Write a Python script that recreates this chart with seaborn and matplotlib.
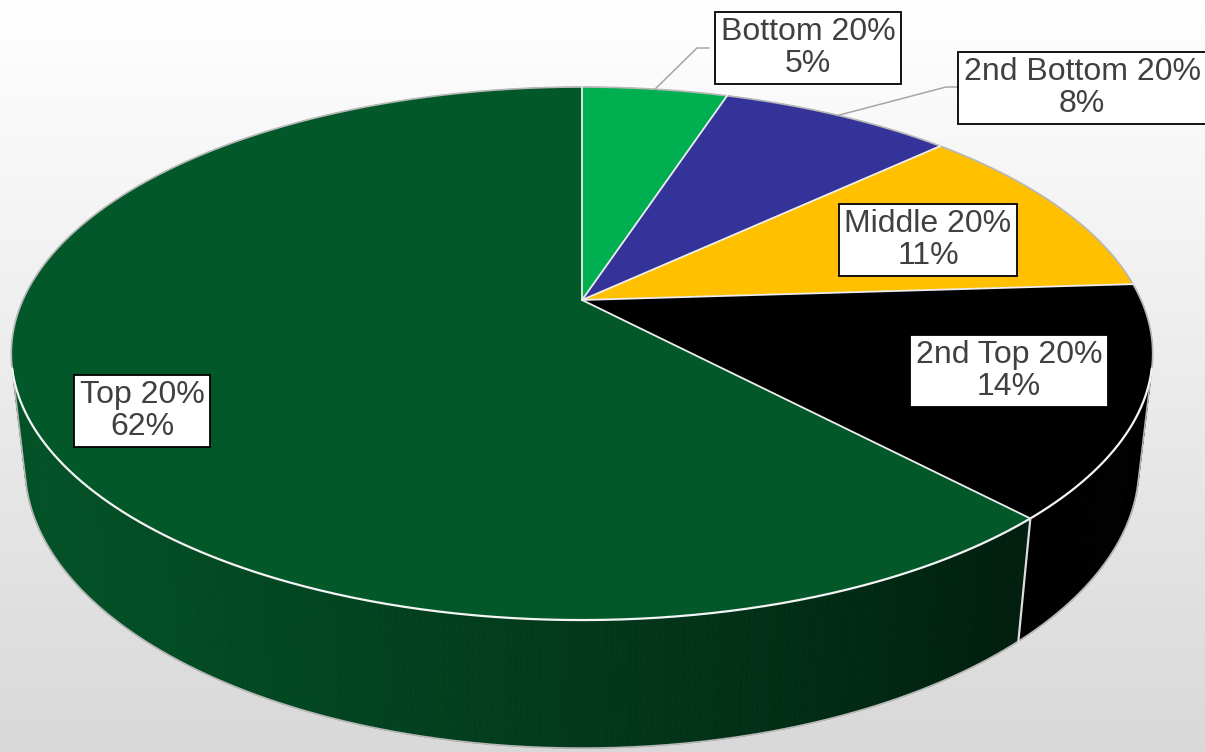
import numpy as np
import matplotlib
matplotlib.use("Agg")
import matplotlib.pyplot as plt
from matplotlib.patches import Polygon
from matplotlib.colors import to_rgb
import seaborn as sns

# ---- data -------------------------------------------------------------
groups = ["Bottom 20%", "2nd Bottom 20%", "Middle 20%", "2nd Top 20%", "Top 20%"]
shares = [5, 8, 11, 14, 62]
slice_hex = ["#00B050", "#333399", "#FFC000", "#000000", "#03582A"]

# label box centres (pixel space) and optional leader elbows
label_pos = [(808, 48), (1082, 88), (928, 240), (1009, 371), (142, 411)]
leader_elbow = [(697, 48), (946, 87), None, None, None]
leader_end = [(709, 48), (958, 87), None, None, None]

# ---- styling ------------------------------------------------------------
sns.set_theme(style="white")
plt.rcParams["font.family"] = ["Liberation Sans", "DejaVu Sans"]
palette = sns.color_palette(slice_hex)

W, H = 1205, 752
fig = plt.figure(figsize=(W / 100, H / 100), dpi=100)
ax = fig.add_axes([0, 0, 1, 1])
ax.set_xlim(0, W)
ax.set_ylim(H, 0)
ax.axis("off")

# background: soft vertical grey gradient
grad = np.linspace(1.0, 0.85, 256)[:, None]
bg = np.dstack([grad, grad, grad]) * np.ones((1, 4, 1))
ax.imshow(bg, extent=(0, W, H, 0), aspect="auto", zorder=0, interpolation="bicubic")

# ---- perspective camera for the 3-D disc ------------------------------
CX, CY = 582.0, 300.0
ELEV = np.arcsin(0.4575)
DIST = 4.427
FOCAL = 2475.0
THICK = 0.227


def proj(u, v, z):
    d = DIST + v * np.cos(ELEV) - z * np.sin(ELEV)
    return CX + FOCAL * u / d, CY - FOCAL * (v * np.sin(ELEV) + z * np.cos(ELEV)) / d


def rim(theta_deg, z):
    t = np.radians(theta_deg)
    return proj(np.sin(t), np.cos(t), z)


# angular extent of each slice, clockwise from 12 o'clock
bounds = np.concatenate([[0], np.cumsum(shares)]) / np.sum(shares) * 360.0

# range of the outer wall that faces the camera
lim = np.degrees(np.arccos(-1.0 / (DIST * np.cos(ELEV))))
vis_lo, vis_hi = lim, 360.0 - lim


def shade(theta):
    return np.clip(0.50 + 0.42 * np.cos(np.radians(theta - 250.0)), 0, 1)


# outer wall, drawn as thin shaded strips
for (a0, a1), col in zip(zip(bounds[:-1], bounds[1:]), palette):
    lo, hi = max(a0, vis_lo), min(a1, vis_hi)
    if hi <= lo:
        continue
    ang = np.linspace(lo, hi, int((hi - lo) / 0.5) + 2)
    base = np.array(to_rgb(col))
    for t0, t1 in zip(ang[:-1], ang[1:]):
        xa, ya = rim(t0, 0)
        xb, yb = rim(t1, 0)
        xc, yc = rim(t1, -THICK)
        xd, yd = rim(t0, -THICK)
        c = base * shade(0.5 * (t0 + t1))
        ax.add_patch(Polygon([(xa, ya), (xb, yb), (xc, yc), (xd, yd)],
                             closed=True, fc=c, ec=c, lw=0.6, zorder=2))

# top faces
for (a0, a1), col in zip(zip(bounds[:-1], bounds[1:]), palette):
    ang = np.linspace(a0, a1, max(int((a1 - a0) / 0.5), 2) + 1)
    xs, ys = rim(ang, 0)
    pts = [(CX, CY)] + list(zip(xs, ys))
    ax.add_patch(Polygon(pts, closed=True, fc=col, ec=col, lw=0.4, zorder=3))

# outlines
edge_grey = "#b8b8b8"
back = np.linspace(vis_hi, 360 + vis_lo, 400)
bx, by = rim(back, 0)
ax.plot(bx, by, color=edge_grey, lw=1.2, zorder=4)
front = np.linspace(vis_lo, vis_hi, 400)
fx, fy = rim(front, 0)
ax.plot(fx, fy, color="#f4f4f4", lw=1.6, zorder=5)
gx, gy = rim(front, -THICK)
ax.plot(gx, gy, color=edge_grey, lw=1.2, zorder=4)
for a in (vis_lo, vis_hi):
    x0, y0 = rim(a, 0)
    x1, y1 = rim(a, -THICK)
    ax.plot([x0, x1], [y0, y1], color=edge_grey, lw=1.2, zorder=4)

# slice separators on the top face and down the wall
for a in bounds[:-1]:
    x1, y1 = rim(a, 0)
    ax.plot([CX, x1], [CY, y1], color="#eeeeee", lw=1.3, zorder=5)
    if vis_lo < a < vis_hi:
        x2, y2 = rim(a, -THICK)
        ax.plot([x1, x2], [y1, y2], color="#dddddd", lw=1.6, zorder=5)

# data labels
for i, (name, val) in enumerate(zip(groups, shares)):
    lx, ly = label_pos[i]
    ax.text(lx, ly, f"{name}\n{val}%", ha="center", va="center",
            fontsize=23, color="#404040", linespacing=1.08, zorder=8,
            bbox=dict(boxstyle="square,pad=0.17", fc="white", ec="black", lw=1.3))
    if leader_elbow[i] is not None:
        mid = 0.5 * (bounds[i] + bounds[i + 1])
        sx, sy = rim(mid, 0)
        ex, ey = leader_elbow[i]
        tx, ty = leader_end[i]
        ax.plot([sx, ex, tx], [sy, ey, ty], color="#a6a6a6", lw=1.1, zorder=6)

fig.savefig("out.png", dpi=100)
